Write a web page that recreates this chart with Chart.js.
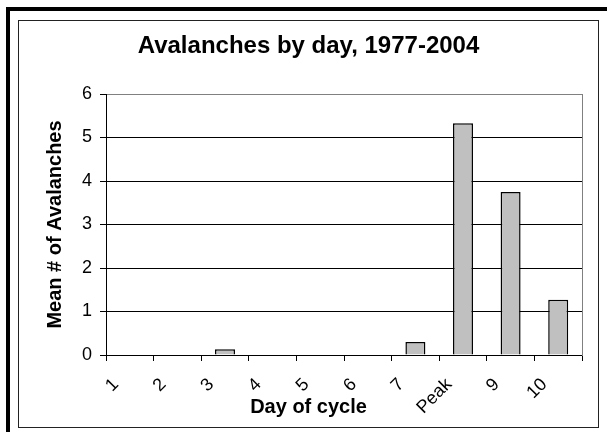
<!DOCTYPE html>
<html>
<head>
<meta charset="utf-8">
<script src="https://cdn.jsdelivr.net/npm/chart.js@4/dist/chart.umd.min.js"></script>
<style>
  html, body { margin: 0; padding: 0; background: #fff; width: 607px; height: 432px; overflow: hidden; }
  #thickL { position: absolute; left: 6px; top: 7px; width: 4px; height: 425px; background: #000; }
  #thickT { position: absolute; left: 6px; top: 7px; width: 601px; height: 4px; background: #000; }
  #frame { position: absolute; left: 18px; top: 20px; width: 579px; height: 406px; border: 1px solid #222; background: #fff; }
  canvas { display: block; }
</style>
</head>
<body>
<div id="thickL"></div>
<div id="thickT"></div>
<div id="frame"><canvas id="c" width="579" height="406"></canvas></div>
<script>
const chartTitle = 'Avalanches by day, 1977-2004';
const xAxisTitle = 'Day of cycle';
const yAxisTitle = 'Mean # of Avalanches';
const categories = ['1', '2', '3', '4', '5', '6', '7', 'Peak', '9', '10'];
const meanAvalanches = [0, 0, 0.13, 0, 0, 0, 0.30, 5.33, 3.75, 1.27];
const yMin = 0;
const yMax = 6;
const yStep = 1;

const FONT = "'Liberation Sans', Arial, sans-serif";
Chart.defaults.font.family = FONT;
Chart.defaults.color = '#000';

new Chart(document.getElementById('c'), {
  type: 'bar',
  data: {
    labels: categories,
    datasets: [{
      data: meanAvalanches,
      backgroundColor: '#c0c0c0',
      borderColor: '#000',
      borderWidth: 1.5,
      categoryPercentage: 1,
      barPercentage: 0.42
    }]
  },
  options: {
    responsive: false,
    animation: false,
    layout: { padding: 0 },
    plugins: {
      legend: { display: false },
      tooltip: { enabled: false },
      title: {
        display: true,
        text: chartTitle,
        color: '#000',
        font: { size: 24, weight: 'bold', family: FONT, lineHeight: 1.2 },
        padding: { top: 11.3, bottom: 32.9 }
      },
      subtitle: {
        display: true,
        position: 'bottom',
        text: xAxisTitle,
        color: '#000',
        font: { size: 20, weight: 'bold', family: FONT, lineHeight: 1.2 },
        padding: { top: -26, bottom: 8 }
      }
    },
    scales: {
      x: {
        type: 'category',
        offset: true,
        afterFit: (s) => { s.height = 66; },
        grid: {
          offset: true,
          drawOnChartArea: false,
          drawTicks: true,
          tickLength: 6,
          color: '#000',
          tickColor: '#000'
        },
        border: { display: true, color: '#000', width: 1 },
        ticks: {
          minRotation: 45,
          maxRotation: 45,
          autoSkip: false,
          padding: 13,
          labelOffset: -14,
          color: '#000',
          font: { size: 18, family: FONT }
        }
      },
      y: {
        type: 'linear',
        position: 'left',
        min: yMin,
        max: yMax,
        afterFit: (s) => { s.width = 87; },
        grid: {
          color: (ctx) => (ctx.tick && ctx.tick.value === yMax) ? '#808080' : '#000',
          tickColor: '#000',
          lineWidth: 1,
          drawTicks: true,
          tickLength: 6
        },
        border: { display: true, color: '#000', width: 1 },
        ticks: {
          stepSize: yStep,
          padding: 8,
          color: '#000',
          font: { size: 18, family: FONT }
        },
        title: {
          display: true,
          text: yAxisTitle,
          color: '#000',
          font: { size: 20, weight: 'bold', family: FONT, lineHeight: 1.2 },
          padding: { top: 24, bottom: 0 }
        }
      },
      yRight: {
        type: 'linear',
        position: 'right',
        min: yMin,
        max: yMax,
        afterFit: (s) => { s.width = 16; },
        grid: { drawOnChartArea: false, drawTicks: false },
        border: { display: true, color: '#808080', width: 1 },
        ticks: { display: false }
      }
    }
  }
});
</script>
</body>
</html>
